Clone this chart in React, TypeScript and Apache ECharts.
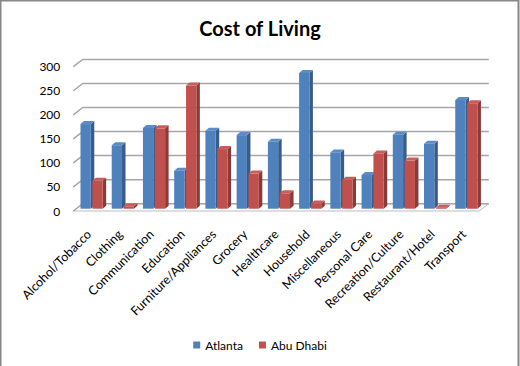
import React, { useEffect, useRef } from "react";
import * as echarts from "echarts";

const categories = [
  "Alcohol/Tobacco",
  "Clothing",
  "Communication",
  "Education",
  "Furniture/Appliances",
  "Grocery",
  "Healthcare",
  "Household",
  "Miscellaneous",
  "Personal Care",
  "Recreation/Culture",
  "Restaurant/Hotel",
  "Transport",
];
const atlanta = [176, 132, 168, 79, 162, 153, 139, 282, 117, 70, 154, 135, 226];
const abuDhabi = [58, 5, 167, 256, 124, 73, 32, 11, 60, 115, 100, 2, 219];
const yTicks = [0, 50, 100, 150, 200, 250, 300];

const DX = 9.5; // back wall offset x
const DY = 7.3; // back wall offset y
const BASE = 2.3; // bar front-plane lift
const BDX = 3.5; // bar depth x
const BDY = 3; // bar depth y

const FONT = "Lato";

function makeBarSeries(name: string, data: number[], offset: number, front: string, side: string, top: string) {
  return {
    name,
    type: "custom",
    itemStyle: { color: front },
    data: data.map((v, i) => [i, v]),
    encode: { x: 0, y: 1 },
    z: 3,
    renderItem: (params: any, api: any) => {
      const i = api.value(0);
      const v = api.value(1);
      const p = api.coord([i, v]);
      const p0 = api.coord([i, 0]);
      const bw = api.size([1, 0])[0];
      const x0 = p[0] - bw / 2 + offset * bw;
      const w = 0.33 * bw;
      const yTop = p[1] - BASE;
      const yBot = p0[1] - BASE;
      return {
        type: "group",
        children: [
          {
            type: "polygon",
            shape: {
              points: [
                [x0 + w, yBot],
                [x0 + w + BDX, yBot - BDY],
                [x0 + w + BDX, yTop - BDY],
                [x0 + w, yTop],
              ],
            },
            style: { fill: side },
          },
          {
            type: "polygon",
            shape: {
              points: [
                [x0, yTop],
                [x0 + BDX, yTop - BDY],
                [x0 + w + BDX, yTop - BDY],
                [x0 + w, yTop],
              ],
            },
            style: { fill: top },
          },
          {
            type: "rect",
            shape: { x: x0, y: yTop, width: w, height: Math.max(yBot - yTop, 0.5) },
            style: { fill: front },
          },
        ],
      };
    },
  };
}

export default function App() {
  const ref = useRef<HTMLDivElement>(null);
  useEffect(() => {
    if (!ref.current) return;
    const chart = echarts.init(ref.current, undefined, { renderer: "svg" });
    chart.setOption({
      animation: false,
      backgroundColor: "#ffffff",
      title: {
        text: "Cost of Living",
        left: "center",
        top: 13,
        textStyle: { fontFamily: FONT, fontSize: 20, fontWeight: "bold", color: "#000" },
      },
      legend: {
        bottom: 10,
        left: "center",
        icon: "rect",
        itemWidth: 7,
        itemHeight: 7,
        itemGap: 16,
        textStyle: { fontFamily: FONT, fontSize: 12, color: "#000" },
        data: ["Atlanta", "Abu Dhabi"],
      },
      graphic: [
        {
          type: "rect",
          shape: { x: 0.5, y: 0.5, width: 518, height: 420 },
          style: { fill: "none", stroke: "#878787", lineWidth: 2 },
          silent: true,
        },
      ],
      grid: { left: 73.3, right: 40.7, top: 66.7, bottom: 155 },
      xAxis: {
        type: "category",
        data: categories,
        axisLine: { show: false },
        axisTick: { show: false },
        axisLabel: {
          rotate: 45,
          interval: 0,
          margin: 21,
          fontFamily: FONT,
          fontSize: 12.5,
          color: "#000",
        },
      },
      yAxis: {
        type: "value",
        min: 0,
        max: 300,
        interval: 50,
        axisLine: { show: false },
        axisTick: { show: false },
        splitLine: { show: false },
        axisLabel: { margin: 13, fontFamily: FONT, fontSize: 12, color: "#000" },
      },
      series: [
        {
          type: "custom",
          name: "walls",
          silent: true,
          z: 1,
          data: yTicks.map((v) => [0, v]),
          encode: { x: 0, y: 1 },
          renderItem: (params: any, api: any) => {
            const cs = params.coordSys;
            const v = api.value(1);
            const y = api.coord([0, v])[1];
            const children: any[] = [];
            if (v === 0) {
              children.push({
                type: "polygon",
                shape: {
                  points: [
                    [cs.x, y],
                    [cs.x + cs.width, y],
                    [cs.x + cs.width + DX, y - DY],
                    [cs.x + DX, y - DY],
                  ],
                },
                style: { fill: "#ffffff", stroke: "#bcbcbc", lineWidth: 1 },
              });
            }
            children.push({
              type: "polyline",
              shape: {
                points: [
                  [cs.x, y],
                  [cs.x + DX, y - DY],
                  [cs.x + cs.width + DX, y - DY],
                ],
              },
              style: { fill: "none", stroke: "#a6a6a6", lineWidth: 1.5 },
            });
            return { type: "group", children };
          },
        },
        makeBarSeries("Atlanta", atlanta, 0.23, "#4f81bd", "#385d8a", "#5b8cc8"),
        makeBarSeries("Abu Dhabi", abuDhabi, 0.61, "#c0504d", "#8c3a38", "#c95d5a"),
      ],
    });
    return () => chart.dispose();
  }, []);
  return (
    <div
      ref={ref}
      style={{ position: "absolute", left: 0, top: 0, width: 520, height: 366 }}
    />
  );
}
